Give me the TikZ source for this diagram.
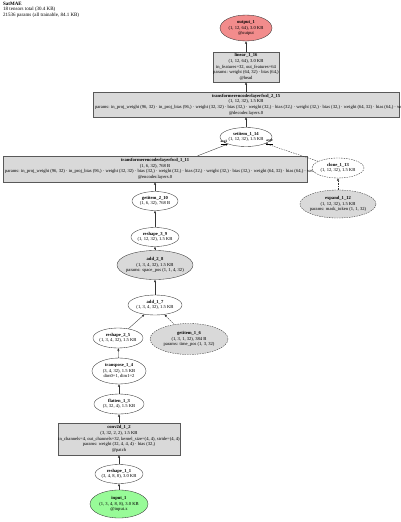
\documentclass[tikz,border=0pt]{standalone}
\usepackage{fontspec}
\setmainfont{Liberation Serif}
\usetikzlibrary{shapes.geometric,arrows.meta,calc}
\definecolor{pgray}{HTML}{D9D9D9}
\definecolor{outred}{HTML}{F28C8C}
\definecolor{ingreen}{HTML}{98FB98}
\newcommand\tfparamsa{params: in\_proj\_weight (96, 32) · in\_proj\_bias (96,) · weight (32, 32) · bias (32,) · weight (32,) · bias (32,) · weight (32,) · bias (32,) · weight (64, 32) · bias (64,) · weight}
\newcommand\tfparams{\tfparamsa{} (32, 64) · bias (32,)}
\begin{document}
\begin{tikzpicture}[x=1pt,y=-1pt,
  every node/.style={font=\fontsize{4.6}{5.6}\selectfont},
  op/.style={ellipse, draw=black!80, line width=0.35pt, fill=white, inner xsep=-5pt, inner ysep=0pt, align=center},
  parop/.style={op, fill=pgray},
  noinp/.style={dash pattern=on 1.5pt off 1pt},
  pbox/.style={rectangle, draw=black!65, line width=0.35pt, fill=pgray, inner sep=0pt, align=center},
  conn/.style={draw=black!80, line width=0.35pt, -{Triangle[length=2.4pt,width=2pt]}},
  arglab/.style={font=\fontsize{3.4}{3.6}\selectfont\bfseries, inner sep=0pt}
]
\useasboundingbox (0,0) rectangle (400,522);
\clip (0,0) rectangle (400,522);

\node[anchor=north west, align=left, inner sep=0pt, font=\fontsize{5}{5.8}\selectfont] (hdr) at (3,1.5)
  {\textbf{SatMAE}\\18 tensors total (30.4 KB)\\21536 params (all trainable, 84.1 KB)};

\node[op, fill=outred, minimum width=52pt, minimum height=26pt] (out) at (246,28)
  {\textbf{output\_1}\\(1, 12, 64), 3.0 KB\\@output};
\node[pbox, minimum width=63pt, minimum height=30pt] (lin) at (246,67)
  {\textbf{linear\_1\_16}\\(1, 12, 64), 3.0 KB\\in\_features=32, out\_features=64\\params: weight (64, 32) · bias (64,)\\@head};
\node[pbox, minimum width=306pt, minimum height=25pt] (tf2) at (246,104.5)
  {\textbf{transformerencoderlayerfwd\_2\_15}\\(1, 12, 32), 1.5 KB\\\makebox[302pt][l]{\tfparams}\\@decoder.layers.0};
\node[op, minimum width=52pt, minimum height=19pt] (set) at (246,137)
  {\textbf{setitem\_1\_14}\\(1, 12, 32), 1.5 KB};
\node[pbox, minimum width=304pt, minimum height=26pt] (tf1) at (155,169)
  {\textbf{transformerencoderlayerfwd\_1\_11}\\(1, 6, 32), 768 B\\\makebox[300pt][l]{\tfparamsa}\\@encoder.layers.0};
\node[op, noinp, minimum width=52pt, minimum height=20pt] (clone) at (338,168)
  {\textbf{clone\_1\_13}\\(1, 12, 32), 1.5 KB};
\node[parop, noinp, minimum width=76pt, minimum height=28pt] (exp) at (338,204)
  {\textbf{expand\_1\_12}\\(1, 12, 32), 1.5 KB\\params: mask\_token (1, 1, 32)};
\node[op, minimum width=46pt, minimum height=19pt] (gi2) at (155,201)
  {\textbf{getitem\_2\_10}\\(1, 6, 32), 768 B};
\node[op, minimum width=48pt, minimum height=19pt] (rs3) at (155,237)
  {\textbf{reshape\_3\_9}\\(1, 12, 32), 1.5 KB};
\node[parop, minimum width=76pt, minimum height=29pt] (add2) at (155,265)
  {\textbf{add\_2\_8}\\(1, 3, 4, 32), 1.5 KB\\params: space\_pos (1, 1, 4, 32)};
\node[op, minimum width=54pt, minimum height=20pt] (add1) at (155,305)
  {\textbf{add\_1\_7}\\(1, 3, 4, 32), 1.5 KB};
\node[op, minimum width=50pt, minimum height=20pt] (rs2) at (118,338)
  {\textbf{reshape\_2\_5}\\(1, 3, 4, 32), 1.5 KB};
\node[parop, noinp, minimum width=78pt, minimum height=31pt] (gi1) at (189,339)
  {\textbf{getitem\_1\_6}\\(1, 3, 1, 32), 384 B\\params: time\_pos (1, 3, 32)};
\node[op, minimum width=54pt, minimum height=26pt] (tr) at (119,371)
  {\textbf{transpose\_1\_4}\\(3, 4, 32), 1.5 KB\\dim0=1, dim1=2};
\node[op, minimum width=50pt, minimum height=20pt] (fl) at (119,404)
  {\textbf{flatten\_1\_3}\\(3, 32, 4), 1.5 KB};
\node[pbox, minimum width=112pt, minimum height=32pt] (conv) at (119,439)
  {\textbf{conv2d\_1\_2}\\(3, 32, 2, 2), 1.5 KB\\in\_channels=4, out\_channels=32, kernel\_size=(4, 4), stride=(4, 4)\\params: weight (32, 4, 4, 4) · bias (32,)\\@patch};
\node[op, minimum width=48pt, minimum height=19pt] (rs1) at (119,474)
  {\textbf{reshape\_1\_1}\\(3, 4, 8, 8), 3.0 KB};
\node[op, fill=ingreen, minimum width=58pt, minimum height=28pt] (in) at (119,504)
  {\textbf{input\_1}\\(1, 3, 4, 8, 8), 3.0 KB\\@input.x};

\draw[conn] (in) -- (rs1);
\draw[conn] (rs1) -- (conv);
\draw[conn] (conv) -- (fl);
\draw[conn] (fl) -- (tr);
\draw[conn] (tr) -- (rs2);
\draw[conn] (rs2) -- (add1);
\draw[conn, noinp] (gi1) -- (add1);
\draw[conn] (add1) -- (add2);
\draw[conn] (add2) -- (rs3);
\draw[conn] (rs3) -- (gi2);
\draw[conn] (gi2) -- (tf1);
\draw[conn] ($(tf1.north west)!0.64!(tf1.north east)$) -- (set)
  node[arglab, pos=1, xshift=-4pt, yshift=1.5pt] {\underline{arg2}};
\draw[conn, noinp] (exp) -- (clone);
\draw[conn, noinp] (clone) -- (set)
  node[arglab, pos=1, xshift=4pt, yshift=1.5pt] {\underline{arg0}};
\draw[conn] (set) -- (tf2);
\draw[conn] (tf2) -- (lin);
\draw[conn] (lin) -- (out);
\end{tikzpicture}
\end{document}
